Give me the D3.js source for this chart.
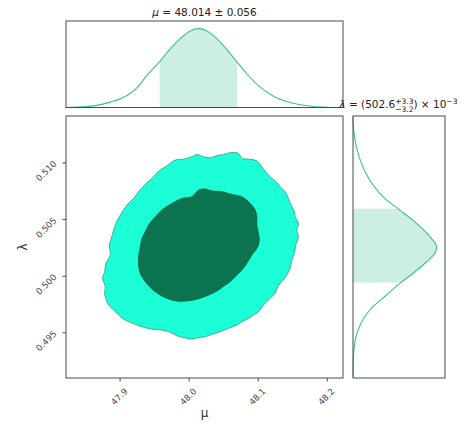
<!DOCTYPE html>
<html><head><meta charset="utf-8">
<script src="https://cdn.jsdelivr.net/npm/d3@7"></script>
<style>
html,body{margin:0;padding:0;background:#fff;}
svg{display:block;font-family:"DejaVu Sans",sans-serif;}
</style></head>
<body>
<svg id="chart" width="466" height="429"></svg>
<script>
// ---------- data ----------
const muTicks = [47.9, 48.0, 48.1, 48.2];
const lamTicks = [0.495, 0.500, 0.505, 0.510];
const muMedian = 48.014, muErr = 0.056;
const lamMedian = 0.5026, lamErrUp = 0.0033, lamErrDown = 0.0032;

// marginal of mu (relative density)
const muGrid = [47.8224,47.8431,47.8624,47.8865,47.9107,47.9251,47.9396,47.9575,47.9734,47.9878,48.0023,48.0144,48.0264,48.0409,48.0554,48.0703,48.0843,48.1036,48.1229,48.1422,48.1615,48.1808,48.2001,48.2242];
const muDensity = [0,0.008,0.021,0.068,0.153,0.25,0.407,0.576,0.746,0.873,0.970,1,0.970,0.873,0.733,0.576,0.428,0.258,0.144,0.076,0.034,0.013,0.004,0];

// marginal of lambda (relative density)
const lamGrid = [0.51402,0.51285,0.51138,0.50991,0.50844,0.50696,0.50579,0.50462,0.50344,0.50255,0.50197,0.50123,0.50021,0.49932,0.49829,0.49726,0.49638,0.49520,0.49403,0.49285,0.49108];
const lamDensity = [0,0.008,0.04,0.10,0.2,0.36,0.56,0.76,0.92,1.0,0.98,0.88,0.72,0.56,0.40,0.24,0.14,0.06,0.02,0.005,0];

// 2D credible contours (95% outer, 68% inner)
const outerMu = [47.9372,47.9468,47.9589,47.9686,47.9806,47.9927,48.0047,48.0120,48.0216,48.0313,48.0409,48.0506,48.0626,48.0723,48.0771,48.0867,48.0988,48.1060,48.1133,48.1205,48.1277,48.1326,48.1398,48.1446,48.1494,48.1533,48.1543,48.1591,48.1567,48.1591,48.1552,48.1533,48.1494,48.1470,48.1422,48.1350,48.1292,48.1253,48.1181,48.1084,48.1012,48.0940,48.0867,48.0771,48.0699,48.0578,48.0457,48.0337,48.0240,48.0144,48.0047,47.9927,47.9830,47.9734,47.9613,47.9493,47.9372,47.9251,47.9155,47.9058,47.8986,47.8914,47.8841,47.8808,47.8783,47.8793,47.8754,47.8783,47.8803,47.8865,47.8851,47.8880,47.8914,47.8947,47.8996,47.9058,47.9131,47.9203,47.9275];
const outerLam = [0.50806,0.50859,0.50932,0.50970,0.51020,0.51029,0.51050,0.51070,0.51050,0.51041,0.51059,0.51070,0.51088,0.51079,0.51035,0.51029,0.51012,0.50962,0.50903,0.50859,0.50823,0.50785,0.50741,0.50682,0.50609,0.50565,0.50520,0.50462,0.50403,0.50344,0.50270,0.50197,0.50138,0.50065,0.50006,0.49947,0.49903,0.49844,0.49800,0.49741,0.49682,0.49653,0.49623,0.49594,0.49565,0.49535,0.49506,0.49482,0.49462,0.49453,0.49441,0.49453,0.49470,0.49500,0.49520,0.49526,0.49541,0.49565,0.49588,0.49617,0.49653,0.49697,0.49741,0.49785,0.49844,0.49903,0.49976,0.50035,0.50109,0.50182,0.50270,0.50329,0.50403,0.50462,0.50520,0.50579,0.50638,0.50682,0.50741];
const innerMu = [48.0096,48.0144,48.0240,48.0337,48.0481,48.0626,48.0771,48.0891,48.0964,48.0988,48.0988,48.1012,48.1022,48.0988,48.0916,48.0843,48.0771,48.0674,48.0602,48.0530,48.0433,48.0313,48.0192,48.0071,47.9951,47.9830,47.9710,47.9589,47.9468,47.9372,47.9300,47.9275,47.9275,47.9300,47.9324,47.9372,47.9420,47.9517,47.9613,47.9758,47.9903,48.0047];
const innerLam = [0.50726,0.50756,0.50765,0.50747,0.50741,0.50717,0.50697,0.50638,0.50579,0.50520,0.50447,0.50373,0.50300,0.50241,0.50182,0.50109,0.50050,0.49991,0.49947,0.49917,0.49873,0.49835,0.49806,0.49785,0.49776,0.49776,0.49794,0.49829,0.49882,0.49947,0.50020,0.50094,0.50167,0.50256,0.50329,0.50388,0.50447,0.50520,0.50579,0.50638,0.50682,0.50697];

// ---------- layout ----------
const svg = d3.select("#chart");
const mainP = {x0:66, x1:343, y0:116, y1:378};
const topP = {x0:66, x1:343, y0:21, y1:107.5};
const rightP = {x0:353, x1:445, y0:116, y1:378};

const x = d3.scaleLinear().domain([47.8224, 48.2236]).range([mainP.x0, mainP.x1]);
const y = d3.scaleLinear().domain([0.49097, 0.51409]).range([mainP.y1, mainP.y0]);
const yTop = d3.scaleLinear().domain([0, 1.097]).range([topP.y1, topP.y0]);
const xRight = d3.scaleLinear().domain([0, 1.1]).range([rightP.x0, rightP.x1]);

const lineCol = "#3cbf92", shadeCol = "#cdeee2";
const outerFill = "#1cffd6", innerFill = "#0b7350";
const spine = "#4a4a4a";

const defs = svg.append("defs");

// ---------- top marginal ----------
const muPts = muGrid.map((m,i)=>[m, muDensity[i]]);
defs.append("clipPath").attr("id","clipTop").append("rect")
  .attr("x", x(muMedian-muErr)).attr("width", x(muMedian+muErr)-x(muMedian-muErr))
  .attr("y", topP.y0).attr("height", topP.y1-topP.y0);
svg.append("path").datum(muPts)
  .attr("clip-path","url(#clipTop)")
  .attr("fill", shadeCol)
  .attr("d", d3.area().x(d=>x(d[0])).y0(yTop(0)).y1(d=>yTop(d[1])).curve(d3.curveMonotoneX));
svg.append("path").datum(muPts)
  .attr("fill","none").attr("stroke",lineCol).attr("stroke-width",1.1)
  .attr("d", d3.line().x(d=>x(d[0])).y(d=>yTop(d[1])).curve(d3.curveMonotoneX));
svg.append("rect").attr("x",topP.x0).attr("y",topP.y0).attr("width",topP.x1-topP.x0).attr("height",topP.y1-topP.y0)
  .attr("fill","none").attr("stroke",spine).attr("stroke-width",1);

// ---------- right marginal ----------
const lamPts = lamGrid.map((l,i)=>[l, lamDensity[i]]);
defs.append("clipPath").attr("id","clipRight").append("rect")
  .attr("x", rightP.x0).attr("width", rightP.x1-rightP.x0)
  .attr("y", y(lamMedian+lamErrUp)).attr("height", y(lamMedian-lamErrDown)-y(lamMedian+lamErrUp));
svg.append("path").datum(lamPts)
  .attr("clip-path","url(#clipRight)")
  .attr("fill", shadeCol)
  .attr("d", d3.area().y(d=>y(d[0])).x0(xRight(0)).x1(d=>xRight(d[1])).curve(d3.curveMonotoneY));
svg.append("path").datum(lamPts)
  .attr("fill","none").attr("stroke",lineCol).attr("stroke-width",1.1)
  .attr("d", d3.line().y(d=>y(d[0])).x(d=>xRight(d[1])).curve(d3.curveMonotoneY));
svg.append("rect").attr("x",rightP.x0).attr("y",rightP.y0).attr("width",rightP.x1-rightP.x0).attr("height",rightP.y1-rightP.y0)
  .attr("fill","none").attr("stroke",spine).attr("stroke-width",1);

// ---------- main contours ----------
defs.append("clipPath").attr("id","clipMain").append("rect")
  .attr("x",mainP.x0).attr("y",mainP.y0).attr("width",mainP.x1-mainP.x0).attr("height",mainP.y1-mainP.y0);
const cline = d3.line().x(d=>x(d[0])).y(d=>y(d[1])).curve(d3.curveCatmullRomClosed.alpha(0.5));
const g = svg.append("g").attr("clip-path","url(#clipMain)");
g.append("path").datum(outerMu.map((m,i)=>[m, outerLam[i]]))
  .attr("fill", outerFill).attr("stroke","#2a9f8c").attr("stroke-width",0.8).attr("d", cline);
g.append("path").datum(innerMu.map((m,i)=>[m, innerLam[i]]))
  .attr("fill", innerFill).attr("stroke","#0a5e42").attr("stroke-width",0.8).attr("d", cline);

svg.append("rect").attr("x",mainP.x0).attr("y",mainP.y0).attr("width",mainP.x1-mainP.x0).attr("height",mainP.y1-mainP.y0)
  .attr("fill","none").attr("stroke",spine).attr("stroke-width",1);

// ---------- axes ----------
const xAxis = svg.append("g").attr("transform",`translate(0,${mainP.y1})`)
  .call(d3.axisBottom(x).tickValues(muTicks).tickSize(3.5).tickFormat(d3.format(".1f")));
xAxis.select(".domain").remove();
xAxis.selectAll(".tick line").attr("stroke",spine);
xAxis.selectAll(".tick text")
  .attr("fill","#4a4a4a").attr("font-size",8.6).attr("font-family","DejaVu Sans, sans-serif")
  .attr("text-anchor","end").attr("dy",null).attr("y",null)
  .attr("transform","translate(8,14) rotate(-45)");

const yAxis = svg.append("g").attr("transform",`translate(${mainP.x0},0)`)
  .call(d3.axisLeft(y).tickValues(lamTicks).tickSize(3.5).tickFormat(d3.format(".3f")));
yAxis.select(".domain").remove();
yAxis.selectAll(".tick line").attr("stroke",spine);
yAxis.selectAll(".tick text")
  .attr("fill","#4a4a4a").attr("font-size",8.6).attr("font-family","DejaVu Sans, sans-serif")
  .attr("text-anchor","end").attr("dy",null).attr("x",null)
  .attr("transform","translate(-9,1.5) rotate(-45)");

// axis labels
svg.append("text").attr("x",(mainP.x0+mainP.x1)/2).attr("y",417).attr("text-anchor","middle")
  .attr("font-size",12).attr("fill","#333").text("μ");
svg.append("text").attr("transform",`translate(27,${(mainP.y0+mainP.y1)/2}) rotate(-90)`).attr("text-anchor","middle")
  .attr("font-size",12).attr("fill","#333").text("λ");

// ---------- titles ----------
const t1 = svg.append("text").attr("x",(topP.x0+topP.x1)/2).attr("y",16).attr("text-anchor","middle")
  .attr("font-size",10.5).attr("fill","#222");
t1.append("tspan").attr("font-style","italic").text("μ");
t1.append("tspan").text(` = ${muMedian.toFixed(3)} ± ${muErr.toFixed(3)}`);

const t2 = svg.append("text").attr("y",108).attr("font-size",10.5).attr("fill","#222");
t2.append("tspan").attr("font-style","italic").text("λ");
t2.append("tspan").text(` = (${(lamMedian*1000).toFixed(1)}`);
const supT = t2.append("tspan").attr("font-size",7.5).attr("dy",-4.5).text(`+${(lamErrUp*1000).toFixed(1)}`);
const subT = t2.append("tspan").attr("font-size",7.5).attr("dy",8).text(`−${(lamErrDown*1000).toFixed(1)}`);
const closeT = t2.append("tspan").attr("dy",-3.5).text(") × 10");
t2.append("tspan").attr("font-size",7.5).attr("dy",-4.5).text("−3");
const supW = supT.node().getComputedTextLength();
const subW = subT.node().getComputedTextLength();
subT.attr("dx", -supW);
if (supW > subW) closeT.attr("dx", supW - subW);
const bb = t2.node().getBBox();
t2.attr("x", (rightP.x0+rightP.x1)/2 - bb.width/2);
</script>
</body></html>
